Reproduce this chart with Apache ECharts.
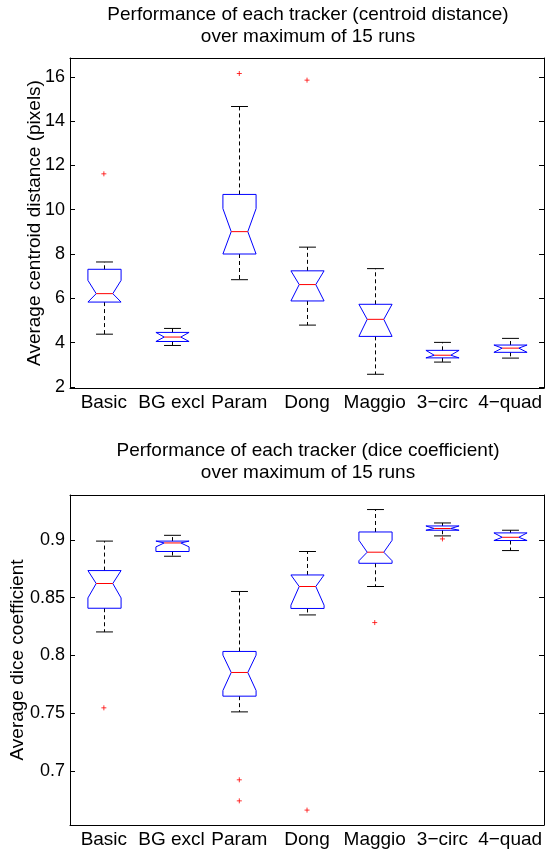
<!DOCTYPE html>
<html>
<head>
<meta charset="utf-8">
<script src="https://cdn.jsdelivr.net/npm/echarts@6/dist/echarts.min.js"></script>
<style>
html, body { margin: 0; padding: 0; background: #fff; }
#main { width: 545px; height: 849px; }
</style>
</head>
<body>
<div id="main"></div>
<script>
// trackers along the x axis
var trackers = ['Basic', 'BG excl', 'Param', 'Dong', 'Maggio', '3\u2212circ', '4\u2212quad'];

// top panel: centroid distance (pixels)
var distWhiskerLow  = [4.38, 3.87, 6.84, 4.79, 2.57, 3.12, 3.30];
var distQ1          = [5.83, 4.05, 8.00, 5.88, 4.28, 3.31, 3.56];
var distNotchLow    = [5.83, 4.05, 8.00, 5.88, 4.28, 3.31, 3.56];
var distMedian      = [6.21, 4.25, 9.01, 6.62, 5.05, 3.43, 3.75];
var distNotchHigh   = [6.81, 4.46, 10.05, 7.24, 5.73, 3.65, 3.89];
var distQ3          = [7.31, 4.46, 10.69, 7.24, 5.73, 3.65, 3.89];
var distWhiskerHigh = [7.64, 4.64, 14.66, 8.31, 7.34, 4.01, 4.19];
var distOutliers    = [['Basic', 11.62], ['Param', 16.15], ['Dong', 15.85]];

// bottom panel: dice coefficient
var diceWhiskerLow  = [0.8204, 0.8859, 0.7512, 0.8351, 0.8597, 0.9035, 0.8908];
var diceQ1          = [0.8409, 0.8900, 0.7648, 0.8407, 0.8798, 0.9084, 0.8995];
var diceNotchLow    = [0.8498, 0.8940, 0.7697, 0.8435, 0.8820, 0.9084, 0.8995];
var diceMedian      = [0.8623, 0.8974, 0.7853, 0.8597, 0.8894, 0.9099, 0.9023];
var diceNotchHigh   = [0.8735, 0.8990, 0.8003, 0.8697, 0.8997, 0.9121, 0.9061];
var diceQ3          = [0.8735, 0.8990, 0.8035, 0.8697, 0.9069, 0.9121, 0.9061];
var diceWhiskerHigh = [0.8990, 0.9040, 0.8554, 0.8900, 0.9263, 0.9147, 0.9084];
var diceOutliers    = [['Basic', 0.7547], ['Param', 0.6924], ['Param', 0.6742], ['Dong', 0.6662], ['Maggio', 0.8285], ['3\u2212circ', 0.9009]];

var font = 'Liberation Sans, Arial, Helvetica, sans-serif';

function boxRows(wl, q1, nl, md, nh, q3, wh) {
	return trackers.map(function (t, i) {
		return [i, wl[i], q1[i], nl[i], md[i], nh[i], q3[i], wh[i]];
	});
}

// MATLAB-style notched box
function renderBox(params, api) {
	var i = api.value(0);
	var band = api.size([1, 0])[0];
	var half = band * 0.245, cap = band * 0.125, nw = half * 0.5;
	var c = Math.round(api.coord([i, 0])[0]) + 0.5;
	function y(v) { return api.coord([i, v])[1]; }
	var q1v = api.value(2), q3v = api.value(6);
	var wl = y(api.value(1)), q1 = y(q1v), nl = y(Math.max(api.value(3), q1v));
	var md = y(api.value(4)), nh = y(Math.min(api.value(5), q3v)), q3 = y(q3v), wh = y(api.value(7));
	var black = { stroke: '#000', lineWidth: 1 };
	var dash = { stroke: '#000', lineWidth: 1, lineDash: [4, 3] };
	return {
		type: 'group',
		children: [
			{ type: 'line', shape: { x1: c, y1: q3, x2: c, y2: wh }, style: dash },
			{ type: 'line', shape: { x1: c, y1: q1, x2: c, y2: wl }, style: dash },
			{ type: 'line', shape: { x1: c - cap, y1: wh, x2: c + cap, y2: wh }, style: black },
			{ type: 'line', shape: { x1: c - cap, y1: wl, x2: c + cap, y2: wl }, style: black },
			{ type: 'polygon', shape: { points: [
				[c - half, q1], [c - half, nl], [c - nw, md], [c - half, nh], [c - half, q3],
				[c + half, q3], [c + half, nh], [c + nw, md], [c + half, nl], [c + half, q1]
			] }, style: { fill: 'none', stroke: '#0000ff', lineWidth: 1 } },
			{ type: 'line', shape: { x1: c - nw, y1: md, x2: c + nw, y2: md }, style: { stroke: '#ff0000', lineWidth: 1 } }
		]
	};
}

function xAx(grid, pos, labels) {
	return {
		type: 'category', gridIndex: grid, position: pos, data: trackers,
		axisLine: { lineStyle: { color: '#000', width: 1 } },
		axisTick: { inside: true, length: 5, alignWithLabel: true, lineStyle: { color: '#000' } },
		axisLabel: { show: labels, color: '#000', fontSize: 19, fontFamily: font, margin: 5, interval: 0 },
		splitLine: { show: false }
	};
}

function yAx(grid, pos, min, max, split, name, gap) {
	return {
		type: 'value', gridIndex: grid, position: pos, min: min, max: max, splitNumber: split,
		name: name, nameLocation: 'middle', nameGap: gap, nameMoveOverlap: false,
		nameTextStyle: { color: '#000', fontSize: 19, fontFamily: font },
		axisLine: { show: true, lineStyle: { color: '#000', width: 1 } },
		axisTick: { show: true, inside: true, length: 5, lineStyle: { color: '#000' } },
		axisLabel: { show: pos === 'left', color: '#000', fontSize: 18, fontFamily: font, margin: 5, showMinLabel: false, showMaxLabel: false },
		splitLine: { show: false }
	};
}

var plus = 'path://M5,0L5,10M0,5L10,5';
var chart = echarts.init(document.getElementById('main'));
chart.setOption({
	animation: false,
	backgroundColor: '#fff',
	textStyle: { fontFamily: font, color: '#000' },
	graphic: [
		{ type: 'text', x: 308, y: 4, style: { text: 'Performance of each tracker (centroid distance)\nover maximum of 15 runs', font: '19px ' + font, fill: '#000', align: 'center', verticalAlign: 'top', lineHeight: 22 } },
		{ type: 'text', x: 308, y: 440, style: { text: 'Performance of each tracker (dice coefficient)\nover maximum of 15 runs', font: '19px ' + font, fill: '#000', align: 'center', verticalAlign: 'top', lineHeight: 22 } }
	],
	grid: [
		{ left: 70, top: 58, width: 476, height: 330 },
		{ left: 70, top: 495, width: 476, height: 330 }
	],
	xAxis: [xAx(0, 'bottom', true), xAx(0, 'top', false), xAx(1, 'bottom', true), xAx(1, 'top', false)],
	yAxis: [
		yAx(0, 'left', 1.95, 16.85, 7, 'Average centroid distance (pixels)', 26),
		yAx(0, 'right', 1.95, 16.85, 7, '', 0),
		yAx(1, 'left', 0.6533, 0.9389, 5, 'Average dice coefficient', 43),
		yAx(1, 'right', 0.6533, 0.9389, 5, '', 0)
	],
	series: [
		{
			type: 'custom', xAxisIndex: 0, yAxisIndex: 0, renderItem: renderBox,
			encode: { x: 0, y: [1, 2, 3, 4, 5, 6, 7] },
			data: boxRows(distWhiskerLow, distQ1, distNotchLow, distMedian, distNotchHigh, distQ3, distWhiskerHigh)
		},
		{
			type: 'scatter', xAxisIndex: 0, yAxisIndex: 0, symbol: plus, symbolSize: 5,
			itemStyle: { color: 'none', borderColor: '#ff0000', borderWidth: 1 },
			data: distOutliers
		},
		{
			type: 'custom', xAxisIndex: 2, yAxisIndex: 2, renderItem: renderBox,
			encode: { x: 0, y: [1, 2, 3, 4, 5, 6, 7] },
			data: boxRows(diceWhiskerLow, diceQ1, diceNotchLow, diceMedian, diceNotchHigh, diceQ3, diceWhiskerHigh)
		},
		{
			type: 'scatter', xAxisIndex: 2, yAxisIndex: 2, symbol: plus, symbolSize: 5,
			itemStyle: { color: 'none', borderColor: '#ff0000', borderWidth: 1 },
			data: diceOutliers
		}
	]
});
</script>
</body>
</html>
